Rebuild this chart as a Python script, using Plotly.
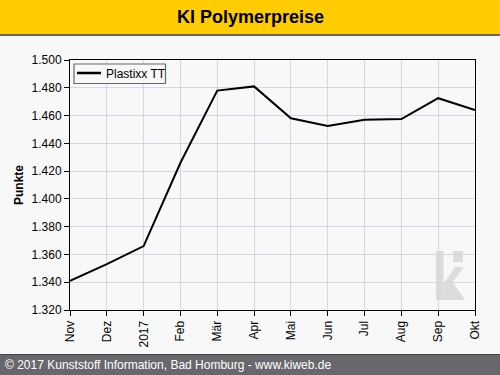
import plotly.graph_objects as go

months = ["Nov", "Dez", "2017", "Feb", "Mär", "Apr", "Mai", "Jun", "Jul", "Aug", "Sep", "Okt"]
plastixx_tt = [1341, 1353, 1366, 1426, 1478, 1481, 1458, 1452.5, 1457, 1457.5, 1472.5, 1464]
y_ticks = [1320, 1340, 1360, 1380, 1400, 1420, 1440, 1460, 1480, 1500]
series_name = "Plastixx TT"

W, H = 500, 375
ML, MR, MT, MB = 70, 25, 60, 65
PW, PH = W - ML - MR, H - MT - MB

def px(x):
    return (x - ML) / PW

def py(y):
    return (H - MB - y) / PH

fig = go.Figure()
fig.add_trace(go.Scatter(
    x=months, y=plastixx_tt, mode="lines", name=series_name,
    line=dict(color="black", width=2), showlegend=False,
))

font = "Liberation Sans, Arial, sans-serif"
fig.update_layout(
    width=W, height=H,
    margin=dict(l=ML, r=MR, t=MT, b=MB, pad=0),
    paper_bgcolor="#f8f8f8", plot_bgcolor="#f8f8f8",
    separators=",.",
    font=dict(family=font, size=12, color="black"),
    showlegend=False,
    xaxis=dict(type="category", categoryorder="array", categoryarray=months,
               range=[0, len(months) - 1], tickangle=-90,
               showgrid=True, gridcolor="#d8d4e6", gridwidth=1,
               showline=True, linecolor="black", linewidth=1, mirror=True,
               ticks="outside", ticklen=5, tickcolor="black",
               tickfont=dict(size=12), zeroline=False),
    yaxis=dict(range=[1320, 1500], tickvals=y_ticks, tickformat=",.0f",
               showgrid=True, gridcolor="#d8d4e6", gridwidth=1,
               showline=True, linecolor="black", linewidth=1, mirror=True,
               ticks="outside", ticklen=5, tickcolor="black",
               tickfont=dict(size=12), zeroline=False,
               title=dict(text="<b>Punkte</b>", font=dict(size=12), standoff=5)),
)

shapes = []
# title bar
shapes.append(dict(type="rect", xref="paper", yref="paper", x0=px(0), x1=px(W), y0=py(34), y1=py(0),
                   fillcolor="#ffcc00", line=dict(width=0), layer="above"))
shapes.append(dict(type="rect", xref="paper", yref="paper", x0=px(0), x1=px(W), y0=py(36), y1=py(34),
                   fillcolor="#666666", line=dict(width=0), layer="above"))
# footer bar
shapes.append(dict(type="rect", xref="paper", yref="paper", x0=px(0), x1=px(W), y0=py(H), y1=py(354),
                   fillcolor="#68686c", line=dict(width=0), layer="above"))
shapes.append(dict(type="rect", xref="paper", yref="paper", x0=px(0), x1=px(W), y0=py(355), y1=py(354),
                   fillcolor="#444444", line=dict(width=0), layer="above"))
# legend box
shapes.append(dict(type="rect", xref="paper", yref="paper", x0=px(74), x1=px(165.5), y0=py(83.5), y1=py(64),
                   fillcolor="#f8f8f8", line=dict(width=1.2, color="#666666"), layer="above"))
shapes.append(dict(type="line", xref="paper", yref="paper", x0=px(77), x1=px(101), y0=py(73), y1=py(73),
                   line=dict(width=2.5, color="black"), layer="above"))
# watermark logo
logo = "#dcdcdc"
shapes.append(dict(type="rect", xref="paper", yref="paper", x0=px(436), x1=px(443.5), y0=py(300), y1=py(251),
                   fillcolor=logo, line=dict(width=0), layer="below"))
shapes.append(dict(type="rect", xref="paper", yref="paper", x0=px(453), x1=px(463), y0=py(262), y1=py(251),
                   fillcolor=logo, line=dict(width=0), layer="below"))
path = "M {a},{b} L {c},{d} L {e},{f} L {g},{h} L {i},{j} L {k},{l} Z".format(
    a=px(443.5), b=py(284), c=px(455), d=py(267), e=px(464), f=py(267),
    g=px(452.5), h=py(282), i=px(465), j=py(300), k=px(455), l=py(300))
shapes.append(dict(type="path", xref="paper", yref="paper", path=path,
                   fillcolor=logo, line=dict(width=0), layer="below"))
shapes.append(dict(type="path", xref="paper", yref="paper",
                   path="M {a},{b} L {c},{d} L {e},{f} L {g},{h} Z".format(
                       a=px(443.5), b=py(284), c=px(455), d=py(300), e=px(443.5), f=py(300), g=px(443.5), h=py(290)),
                   fillcolor=logo, line=dict(width=0), layer="below"))
fig.update_layout(shapes=shapes)

fig.add_annotation(text=series_name, xref="paper", yref="paper",
                   x=px(104), y=py(73.5), xanchor="left", yanchor="middle",
                   showarrow=False, font=dict(size=12, color="black", family=font))
fig.add_annotation(text="<b>KI Polymerpreise</b>", xref="paper", yref="paper",
                   x=px(250), y=py(17), xanchor="center", yanchor="middle",
                   showarrow=False, font=dict(size=18, color="black", family=font))
fig.add_annotation(text="© 2017 Kunststoff Information, Bad Homburg - www.kiweb.de", xref="paper", yref="paper",
                   x=px(3), y=py(364.5), xanchor="left", yanchor="middle",
                   showarrow=False, font=dict(size=12, color="white", family=font))

fig.write_html("out.html")
